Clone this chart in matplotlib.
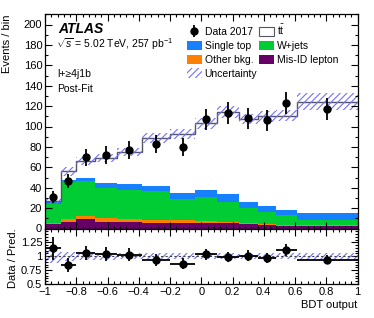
import numpy as np
import matplotlib
matplotlib.use("Agg")
import matplotlib.pyplot as plt
from matplotlib.patches import Patch
from matplotlib.lines import Line2D
from matplotlib.legend_handler import HandlerTuple
from matplotlib.ticker import MultipleLocator, FixedLocator, FuncFormatter

plt.rcParams['font.family'] = ['Liberation Sans', 'DejaVu Sans']
plt.rcParams['mathtext.fontset'] = 'custom'
plt.rcParams['mathtext.rm'] = 'Liberation Sans'
plt.rcParams['mathtext.it'] = 'Liberation Sans:italic'
plt.rcParams['hatch.linewidth'] = 0.8

# ---- data ----
edges = [-1, -0.9, -0.8, -0.68, -0.54, -0.38, -0.2, -0.04, 0.1, 0.24, 0.36, 0.48, 0.61, 1]
data = [31, 47, 70, 72, 77, 83, 80, 107, 113, 108, 106, 123, 117]
data_err = [5.6, 6.9, 8.4, 8.5, 8.8, 9.1, 8.9, 10.3, 10.6, 10.4, 10.3, 11.1, 10.8]
misid = [4.2, 6.8, 9.4, 6.8, 6.1, 5.8, 5.8, 5.1, 5.0, 4.0, 3.5, 2.8, 2.4]
other = [1.0, 2.6, 3.0, 3.2, 3.0, 2.6, 2.6, 2.3, 1.0, 1.0, 0.5, 0.6, 0.6]
wjets = [19.0, 36.6, 34.6, 30.0, 28.9, 28.6, 20.2, 23.9, 20.3, 14.7, 12.0, 9.6, 5.8]
stop = [1.3, 2.0, 3.0, 5.0, 5.3, 5.0, 6.6, 6.6, 7.3, 6.3, 5.6, 5.6, 6.6]
ttbar = [1.5, 8.0, 16.0, 24.0, 31.7, 47.0, 57.4, 65.1, 80.4, 81.0, 88.4, 91.9, 109.0]
unc_rel = [0.12, 0.08, 0.06, 0.06, 0.055, 0.055, 0.055, 0.05, 0.05, 0.045, 0.05, 0.05, 0.065]

x_ticks = [-1, -0.8, -0.6, -0.4, -0.2, 0, 0.2, 0.4, 0.6, 0.8, 1]
ratio_ticks = [0.5, 0.75, 1, 1.25]

c_misid = '#660066'
c_other = '#ff7f00'
c_wjets = '#00cc33'
c_stop = '#1680ff'
c_unc = '#7070ff'
HATCH = '/////'

W, H = 374, 318
fig = plt.figure(figsize=(W / 100, H / 100), dpi=100)
L, R = 45, 357.5
top1, bot1, bot2 = 14.3, 228.5, 284
ax1 = fig.add_axes([L / W, 1 - bot1 / H, (R - L) / W, (bot1 - top1) / H])
ax2 = fig.add_axes([L / W, 1 - bot2 / H, (R - L) / W, (bot2 - bot1) / H], sharex=ax1)

e = np.array(edges, float)
centers = 0.5 * (e[:-1] + e[1:])
halfw = 0.5 * (e[1:] - e[:-1])
comps = [(misid, c_misid), (other, c_other), (wjets, c_wjets), (stop, c_stop)]
base = np.zeros(len(data))
for vals, col in comps:
    topv = base + np.array(vals)
    ax1.stairs(topv, e, baseline=base.copy(), fill=True, color=col, linewidth=0)
    base = topv
total = base + np.array(ttbar)
ax1.stairs(total, e, baseline=base.copy(), fill=True, facecolor='white', linewidth=0)
ax1.stairs(total, e, baseline=None, color='#555560', linewidth=1.0)
u = np.array(unc_rel)
ax1.stairs(total * (1 + u), e, baseline=total * (1 - u), fill=True, facecolor='none',
           edgecolor=c_unc, hatch=HATCH, linewidth=0)
ax1.errorbar(centers, data, yerr=data_err, fmt='o', color='black', markersize=5,
             elinewidth=1.3, capsize=0)

ax1.set_xlim(-1, 1)
ax1.set_ylim(0, 210)
ax1.yaxis.set_major_locator(MultipleLocator(20))
ax1.yaxis.set_minor_locator(MultipleLocator(10))
ax1.xaxis.set_major_locator(FixedLocator(x_ticks))
ax1.xaxis.set_minor_locator(MultipleLocator(0.04))
plt.setp(ax1.get_xticklabels(), visible=False)
ax1.set_ylabel('Events / bin', fontsize=8, loc='top', labelpad=8)

# ratio
ratio = np.array(data) / total
ratio_err = np.array(data_err) / total
ax2.stairs(1 + u, e, baseline=1 - u, fill=True, facecolor='none', edgecolor=c_unc,
           hatch=HATCH, linewidth=0)
ax2.axhline(1, color='#444444', linestyle=(0, (2, 2)), linewidth=0.8)
ax2.errorbar(centers, ratio, yerr=ratio_err, xerr=halfw, fmt='o', color='black',
             markersize=5, elinewidth=1.3, capsize=0)
ax2.set_ylim(0.5, 1.5)
ax2.yaxis.set_major_locator(FixedLocator(ratio_ticks))
ax2.yaxis.set_minor_locator(MultipleLocator(0.05))
ax2.xaxis.set_major_locator(FixedLocator(x_ticks))
ax2.xaxis.set_minor_locator(MultipleLocator(0.04))
ax2.xaxis.set_major_formatter(FuncFormatter(lambda v, p: ('%g' % round(v, 2)).replace('-', '\u2212')))
ax2.yaxis.set_major_formatter(FuncFormatter(lambda v, p: '%g' % v))
ax2.set_ylabel('Data / Pred.', fontsize=8, loc='top', labelpad=2)
ax2.set_xlabel('BDT output', fontsize=8, loc='right', labelpad=2)

for ax in (ax1, ax2):
    ax.tick_params(which='both', direction='in', top=True, right=True, labelsize=8,
                   width=0.8, pad=2)
    ax.tick_params(which='major', length=5)
    ax.tick_params(which='minor', length=2.5)
    for s in ax.spines.values():
        s.set_linewidth(0.9)

def fx(x):
    return x / W

def fy(y):
    return 1 - y / H

fig.text(fx(58), fy(33.3), 'ATLAS', fontsize=10, fontweight='bold', style='italic', va='baseline')
fig.text(fx(56), fy(47.7), r'$\sqrt{s}$ = 5.02 TeV, 257 pb$^{-1}$', fontsize=7.5, va='baseline')
fig.text(fx(57), fy(77.3), 'l+\u22654j1b', fontsize=7.5, va='baseline')
fig.text(fx(57), fy(92.3), 'Post-Fit', fontsize=7.5, va='baseline')

h_data = (Line2D([], [], marker='|', markersize=8, color='black', linestyle='none', markeredgewidth=1.3),
          Line2D([], [], marker='o', markersize=5, color='black', linestyle='none'))
h_stop = Patch(facecolor=c_stop, edgecolor='none')
h_other = Patch(facecolor=c_other, edgecolor='none')
h_unc = Patch(facecolor='none', edgecolor=c_unc, hatch=HATCH, linewidth=0)
h_tt = Patch(facecolor='white', edgecolor='#555560', linewidth=0.8)
h_w = Patch(facecolor=c_wjets, edgecolor='none')
h_mis = Patch(facecolor=c_misid, edgecolor='none')
handles = [h_data, h_stop, h_other, h_unc, h_tt, h_w, h_mis]
labels = ['Data 2017', 'Single top', 'Other bkg.', 'Uncertainty', r't$\bar{\mathrm{t}}$', 'W+jets', 'Mis-ID lepton']
ax1.legend(handles, labels, ncol=2, loc='upper left', bbox_to_anchor=(fx(187), fy(23)),
           bbox_transform=fig.transFigure, frameon=False, fontsize=7.5,
           handlelength=1.4, handleheight=1.0, handletextpad=0.3, columnspacing=0.2,
           labelspacing=0.35, borderpad=0, borderaxespad=0,
           handler_map={tuple: HandlerTuple(ndivide=1)})

fig.savefig('out.png', dpi=100)
